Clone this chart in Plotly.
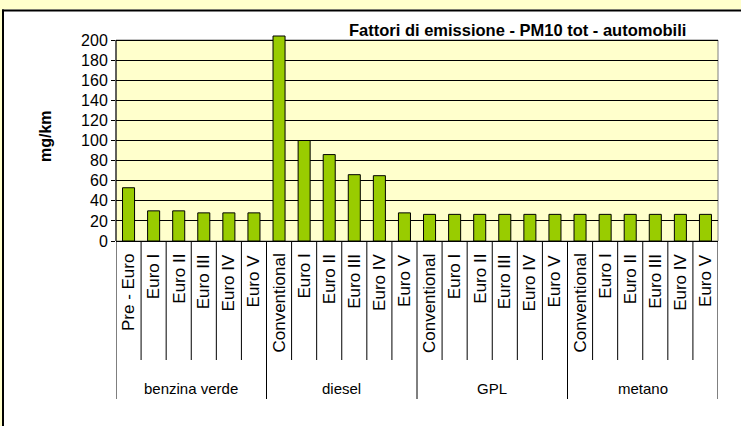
import plotly.graph_objects as go

groups = ["benzina verde"] * 6 + ["diesel"] * 6 + ["GPL"] * 6 + ["metano"] * 6
classes = ["Pre - Euro", "Euro I", "Euro II", "Euro III", "Euro IV", "Euro V",
           "Conventional", "Euro I", "Euro II", "Euro III", "Euro IV", "Euro V",
           "Conventional", "Euro I", "Euro II", "Euro III", "Euro IV", "Euro V",
           "Conventional", "Euro I", "Euro II", "Euro III", "Euro IV", "Euro V"]
pm10 = [53, 30, 30, 28, 28, 28,
        204, 100, 86, 66, 65, 28,
        26.5, 26.5, 26.5, 26.5, 26.5, 26.5,
        26.5, 26.5, 26.5, 26.5, 26.5, 26.5]
y_ticks = list(range(0, 201, 20))
y_max = 200

title = "Fattori di emissione - PM10 tot - automobili"
y_title = "mg/km"

W, H = 741, 426
L, R, T, B = 116, 23, 35, 185
PW, PH = W - L - R, H - T - B


def px(x):
    return (x - L) / PW


def py(y):
    return (H - B - y) / PH


FONT = "Liberation Sans, Arial, sans-serif"
YELLOW = "#FFFFCC"

keys = [g + "|" + c for g, c in zip(groups, classes)]
n = len(keys)

fig = go.Figure(go.Bar(
    x=keys, y=pm10,
    marker=dict(color="#99CC00", line=dict(color="black", width=1)),
    hoverinfo="skip",
))

shapes = [
    # outer frame
    dict(type="rect", xref="paper", yref="paper", x0=px(-5), x1=px(W + 5), y0=py(9.5), y1=py(-5),
         fillcolor=YELLOW, line=dict(width=0), layer="below"),
    dict(type="rect", xref="paper", yref="paper", x0=px(-5), x1=px(2), y0=py(H + 5), y1=py(-5),
         fillcolor=YELLOW, line=dict(width=0), layer="below"),
    dict(type="line", xref="paper", yref="paper", x0=px(2), x1=px(W + 5), y0=py(10.5), y1=py(10.5),
         line=dict(color="black", width=2)),
    dict(type="line", xref="paper", yref="paper", x0=px(3), x1=px(3), y0=py(9.5), y1=py(H + 5),
         line=dict(color="black", width=2)),
    # plot area
    dict(type="rect", xref="paper", yref="y", x0=0, x1=1, y0=0, y1=y_max,
         fillcolor=YELLOW, line=dict(color="#808080", width=1), layer="below"),
    dict(type="line", xref="paper", yref="y", x0=0, x1=0, y0=0, y1=y_max,
         line=dict(color="black", width=1)),
]
# category separators
for i in range(n + 1):
    edge = i == 0 or i == n or groups[i - 1] != groups[i]
    shapes.append(dict(type="line", xref="x", yref="paper", x0=i - 0.5, x1=i - 0.5,
                       y0=0, y1=py(399 if edge else 360), line=dict(color="black", width=1)))

annotations = [
    dict(text="<b>" + title + "</b>", xref="paper", yref="paper", x=px(517), y=py(30),
         xanchor="center", yanchor="middle", showarrow=False, font=dict(size=16.5)),
    dict(text="<b>" + y_title + "</b>", xref="paper", yref="paper", x=px(45), y=py(136),
         xanchor="center", yanchor="middle", textangle=-90, showarrow=False, font=dict(size=16)),
]
for k, c in zip(keys, classes):
    annotations.append(dict(text=c, xref="x", yref="paper", x=k, y=py(252), xanchor="center",
                            yanchor="top", textangle=-90, showarrow=False, font=dict(size=17)))
start = 0
for i in range(1, n + 1):
    if i == n or groups[i] != groups[start]:
        annotations.append(dict(text=groups[start], xref="x", yref="paper", x=(start + i - 1) / 2,
                                y=py(388), xanchor="center", yanchor="middle", showarrow=False,
                                font=dict(size=15)))
        start = i

fig.update_layout(
    width=W, height=H,
    margin=dict(l=L, r=R, t=T, b=B, pad=0),
    paper_bgcolor="white",
    plot_bgcolor="white",
    font=dict(family=FONT, size=16, color="black"),
    showlegend=False,
    bargap=0.52,
    shapes=shapes,
    annotations=annotations,
    xaxis=dict(
        type="category", range=[-0.5, n - 0.5], showticklabels=False, ticks="",
        showline=True, linecolor="black", linewidth=1, showgrid=False, zeroline=False,
    ),
    yaxis=dict(
        range=[0, 205], tickvals=y_ticks, showgrid=True, gridcolor="black", gridwidth=1,
        showline=False, ticks="outside", ticklen=4, tickcolor="black",
        zeroline=False, tickfont=dict(size=16),
    ),
)

fig.write_html("out.html", config={"displayModeBar": False},
               post_script="document.body.style.margin='0';")
